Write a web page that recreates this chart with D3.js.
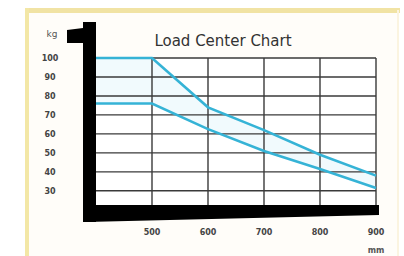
<!DOCTYPE html>
<html><head><meta charset="utf-8">
<script src="https://cdn.jsdelivr.net/npm/d3@7"></script>
<style>html,body{margin:0;padding:0;background:#fff;}svg{display:block;}</style>
</head><body>
<script>
const title = "Load Center Chart";
const yUnit = "kg";
const xUnit = "mm";
const yTicks = [100, 90, 80, 70, 60, 50, 40, 30];
const xTicks = [500, 600, 700, 800, 900];
const xDomain = [400, 900];
const yDomain = [22, 100];
const upperX = [400, 500, 600, 700, 800, 900];
const upperY = [100, 100, 74, 62, 49, 38];
const lowerX = [400, 500, 600, 700, 800, 900];
const lowerY = [76, 76, 62.5, 51, 41.5, 31.5];

const W = 404, H = 256;
const svg = d3.select("body").append("svg").attr("width", W).attr("height", H);

// frame
svg.append("rect").attr("x", 27).attr("y", 10).attr("width", 372).attr("height", 246).attr("fill", "#fffdf9");
svg.append("rect").attr("x", 25).attr("y", 8).attr("width", 375).attr("height", 5).attr("fill", "#f1e3a4");
svg.append("rect").attr("x", 25).attr("y", 8).attr("width", 4).attr("height", 248).attr("fill", "#f3e7a6");
svg.append("rect").attr("x", 397).attr("y", 10).attr("width", 2).attr("height", 246).attr("fill", "#fbf4e0");

const x = d3.scaleLinear().domain(xDomain).range([96, 376]);
const y = d3.scaleLinear().domain(yDomain).range([206, 58]);

// plot bg
svg.append("rect").attr("x", x(xDomain[0])).attr("y", y(yDomain[1])).attr("width", x(xDomain[1]) - x(xDomain[0])).attr("height", y(yDomain[0]) - y(yDomain[1])).attr("fill", "#ffffff");

// faint area between curves
const areaData = upperX.map((d, i) => ({x: d, hi: upperY[i], lo: lowerY[i]}));
svg.append("path").datum(areaData)
  .attr("d", d3.area().x(d => x(d.x)).y0(d => y(d.lo)).y1(d => y(d.hi)))
  .attr("fill", "#f1fafd");

// grid
const g = svg.append("g");
g.selectAll(".hg").data(yTicks).join("line")
  .attr("x1", x(xDomain[0])).attr("x2", x(xDomain[1]))
  .attr("y1", d => y(d)).attr("y2", d => y(d))
  .attr("stroke", "#3a3a3a").attr("stroke-width", 1.4);
g.selectAll(".vg").data(xTicks).join("line")
  .attr("x1", d => x(d)).attr("x2", d => x(d))
  .attr("y1", y(yDomain[1])).attr("y2", y(yDomain[0]))
  .attr("stroke", "#3a3a3a").attr("stroke-width", 1.4);

// curves
const line = d3.line().x(d => x(d[0])).y(d => y(d[1]));
svg.append("path").datum(upperX.map((d, i) => [d, upperY[i]]))
  .attr("d", line).attr("fill", "none").attr("stroke", "#35b3d6").attr("stroke-width", 2.6);
svg.append("path").datum(lowerX.map((d, i) => [d, lowerY[i]]))
  .attr("d", line).attr("fill", "none").attr("stroke", "#35b3d6").attr("stroke-width", 2.6);

// mast & fork
const x0 = x(xDomain[0]), x1 = x(xDomain[1]), yb = y(yDomain[0]);
svg.append("rect").attr("x", x0 - 13).attr("y", 22).attr("width", 13).attr("height", yb + 16 - 22).attr("fill", "#000");
svg.append("path").attr("d", `M${x0-29},30 L${x0-13},28 L${x0-13},43 L${x0-29},43 Z`).attr("fill", "#000");
svg.append("path").attr("d", `M${x0-13},${yb-1} L${x1+3},${yb-1} L${x1+3},${yb+9} L${x0-10},${yb+16} L${x0-13},${yb+14} Z`).attr("fill", "#000");

// title
svg.append("text").attr("x", 223).attr("y", 46).attr("text-anchor", "middle")
  .attr("font-family", "DejaVu Sans").attr("font-size", 15).attr("fill", "#333").text(title);

// y labels
svg.selectAll(".yl").data(yTicks).join("text")
  .attr("x", 50).attr("y", d => y(d) + 3).attr("text-anchor", "middle")
  .attr("font-family", "DejaVu Sans").attr("font-weight", "bold").attr("font-size", 8).attr("fill", "#444")
  .text(d => d);
svg.append("text").attr("x", 52).attr("y", 37).attr("text-anchor", "middle")
  .attr("font-family", "DejaVu Sans").attr("font-size", 9).attr("fill", "#555").text(yUnit);

// x labels
svg.selectAll(".xl").data(xTicks).join("text")
  .attr("x", d => x(d)).attr("y", 235).attr("text-anchor", "middle")
  .attr("font-family", "DejaVu Sans").attr("font-weight", "bold").attr("font-size", 8).attr("fill", "#444")
  .text(d => d);
svg.append("text").attr("x", x1).attr("y", 253).attr("text-anchor", "middle")
  .attr("font-family", "DejaVu Sans").attr("font-weight", "bold").attr("font-size", 8).attr("fill", "#555").text(xUnit);
</script>
</body></html>
